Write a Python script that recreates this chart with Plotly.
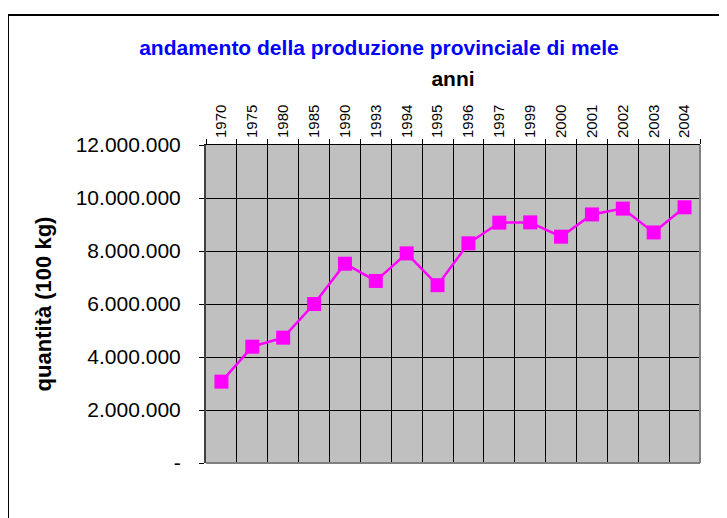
import plotly.graph_objects as go

# Dati ------------------------------
anni = ["1970", "1975", "1980", "1985", "1990", "1993", "1994", "1995",
        "1996", "1997", "1999", "2000", "2001", "2002", "2003", "2004"]
quantita = [3070000, 4390000, 4730000, 6000000, 7520000, 6870000, 7910000, 6710000,
            8290000, 9070000, 9080000, 8540000, 9380000, 9600000, 8700000, 9650000]

y_tick_vals = [0, 2000000, 4000000, 6000000, 8000000, 10000000, 12000000]
y_tick_text = ["-", "2.000.000", "4.000.000", "6.000.000", "8.000.000", "10.000.000", "12.000.000"]

# la pagina ha 8px di margine: la figura occupa 719x510 della finestra
W, H = 719, 510
L, R, T, B = 198, 27, 137, 55   # area del grafico 198..692 x 137..455
pw, ph = W - L - R, H - T - B

FONT = "Liberation Sans, Arial, sans-serif"

fig = go.Figure()
fig.add_trace(go.Scatter(
    x=anni, y=quantita, mode="lines+markers",
    line=dict(color="#FF00FF", width=2.5),
    marker=dict(symbol="square", size=14, color="#FF00FF"),
    showlegend=False,
))

# coordinate in pixel della figura -> paper
def px(xp):
    return (xp - L) / pw

def py(yp):
    return (H - B - yp) / ph

shapes = [
    # bordo esterno del grafico
    dict(type="rect", xref="paper", yref="paper", x0=px(0), x1=px(760), y0=py(7), y1=py(560),
         line=dict(color="black", width=2), layer="above"),
    # bordo grigio destro e inferiore dell'area
    dict(type="line", xref="paper", yref="paper", x0=1, x1=1, y0=0, y1=1,
         line=dict(color="#808080", width=2), layer="above"),
    dict(type="line", xref="paper", yref="paper", x0=0, x1=1, y0=0, y1=0,
         line=dict(color="#808080", width=2), layer="above"),
]

fig.update_layout(
    width=W, height=H,
    margin=dict(l=L, r=R, t=T, b=B),
    paper_bgcolor="white", plot_bgcolor="#C0C0C0",
    font=dict(family=FONT, color="black"),
    title=dict(text="<b>andamento della produzione provinciale di mele</b>",
               font=dict(size=21, color="#0000FF", family=FONT),
               x=371 / W, xanchor="center", xref="container",
               y=1 - 40 / H, yanchor="middle", yref="container"),
    shapes=shapes,
)

fig.update_xaxes(
    type="category", side="top", range=[-0.5, len(anni) - 0.5],
    tickson="boundaries", ticks="outside", ticklen=5, tickcolor="black",
    tickangle=-90, tickfont=dict(size=15, family=FONT), ticklabelstandoff=3,
    showgrid=True, gridcolor="black", gridwidth=1,
    showline=True, linecolor="black", linewidth=1,
    title=dict(text="<b>anni</b>", font=dict(size=21, family=FONT), standoff=12),
)

fig.update_yaxes(
    range=[0, 12000000], tickvals=y_tick_vals, ticktext=y_tick_text,
    ticks="outside", ticklen=5, tickcolor="black",
    tickfont=dict(size=21, family=FONT), ticklabelstandoff=14,
    showgrid=True, gridcolor="black", gridwidth=1, zeroline=False,
    showline=True, linecolor="#404040", linewidth=2,
    title=dict(text="<b>quantità (100 kg)</b>", font=dict(size=22, family=FONT), standoff=18),
)

fig.write_html("out.html")
